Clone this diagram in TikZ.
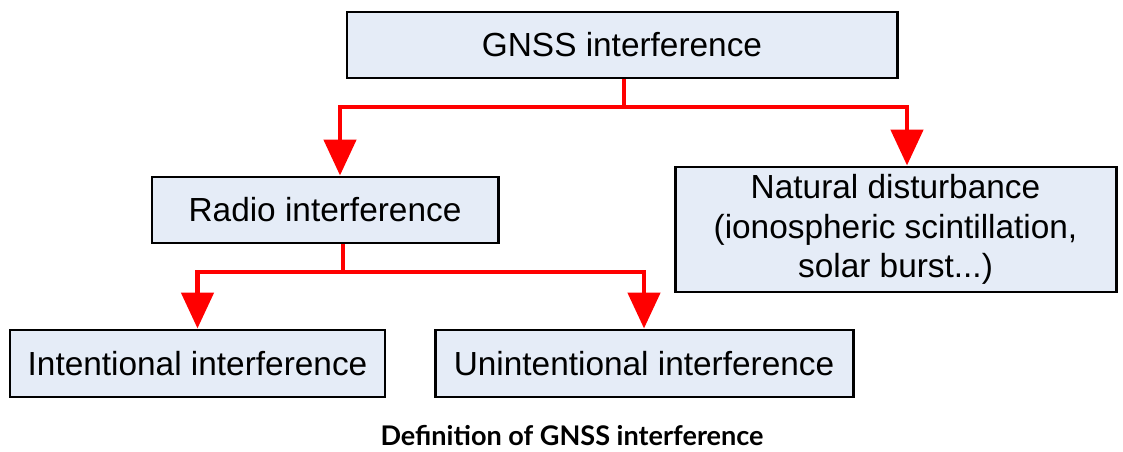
\documentclass[tikz,border=0pt]{standalone}
\usepackage{fontspec}
\setmainfont{Liberation Sans}
\newfontfamily\capfont{Lato}
\usetikzlibrary{arrows.meta,positioning,calc}
\definecolor{boxfill}{RGB}{229,236,247}
\definecolor{linkred}{RGB}{255,0,0}
\tikzset{
  catbox/.style={draw=black,line width=1.7pt,fill=boxfill,align=center,
    font=\fontsize{19}{22.5}\selectfont,inner sep=0pt},
  link/.style={draw=linkred,line width=2.8pt},
  linkarrow/.style={link,-{Triangle[length=0.72cm,width=0.64cm]}}
}

\begin{document}
\begin{tikzpicture}
\useasboundingbox (0,0) rectangle (22.46,-9.04);
\fill[white] (0,0) rectangle (22.46,-9.04);
% boxes
\node[catbox,minimum width=11.0cm,minimum height=1.32cm] (gnss) at (12.44,-0.90) {GNSS interference};
\node[catbox,minimum width=6.92cm,minimum height=1.32cm] (radio) at (6.50,-4.20) {Radio interference};
\node[catbox,minimum width=8.82cm,minimum height=2.50cm] (natural) at (17.91,-4.59)
  {Natural disturbance\\(ionospheric scintillation,\\solar burst...)};
\node[catbox,minimum width=7.50cm,minimum height=1.34cm] (intent) at (3.95,-7.27) {Intentional interference};
\node[catbox,minimum width=8.36cm,minimum height=1.34cm] (unintent) at (12.88,-7.27) {Unintentional interference};
\node[font=\capfont\bfseries\fontsize{15.4}{18}\selectfont,inner sep=0pt] (caption) at (11.44,-8.72)
  {Definition of GNSS interference};
% connectors
\coordinate (gsplit) at (12.48,-2.14);
\coordinate (rsplit) at (6.86,-5.44);
\draw[link] (gnss.south -| gsplit) -- (gsplit);
\draw[linkarrow] (gsplit) -| ([xshift=0.30cm]radio.north);
\draw[linkarrow] (gsplit) -| ([xshift=0.23cm]natural.north);
\draw[link] (radio.south -| rsplit) -- (rsplit);
\draw[linkarrow] (rsplit) -| (intent.north);
\draw[linkarrow] (rsplit) -| (unintent.north);
\end{tikzpicture}
\end{document}
